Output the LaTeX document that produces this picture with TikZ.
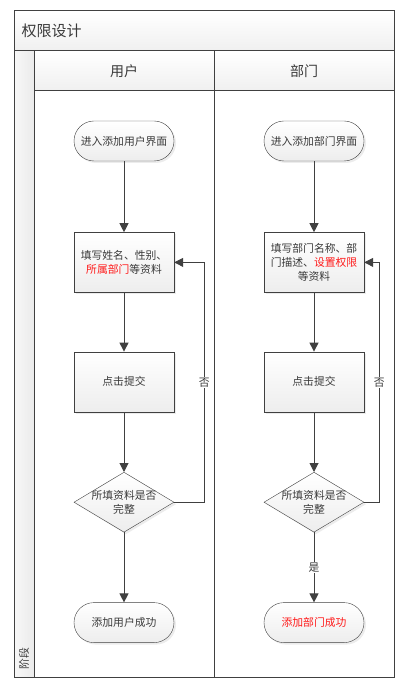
\documentclass[tikz,border=0pt]{standalone}
\usepackage{fontspec}
\setmainfont{Noto Sans CJK SC}
\usetikzlibrary{positioning,shapes.geometric,arrows.meta,shadows}
\definecolor{linegray}{HTML}{404040}
\definecolor{txtgray}{HTML}{3A3A3A}
\definecolor{hilite}{HTML}{FF1A1A}

\begin{document}
\begin{tikzpicture}[
  x=1pt,y=1pt,
  >={Triangle[width=9pt,length=9pt]},
  every node/.style={text=txtgray,font=\fontsize{10.8pt}{14pt}\selectfont},
  gradfill/.style={top color=white,bottom color=gray!14,
    drop shadow={opacity=0.15,shadow xshift=2pt,shadow yshift=-2pt}},
  term/.style={draw=linegray,gradfill,rounded corners=20pt,minimum width=100pt,
    minimum height=40pt,inner sep=0pt},
  proc/.style={draw=linegray,gradfill,minimum width=100pt,minimum height=60pt,
    inner sep=0pt,align=center},
  check/.style={draw=linegray,gradfill,diamond,aspect=1.667,minimum width=100pt,
    minimum height=60pt,inner xsep=-6pt,inner ysep=0pt,align=center},
  lane/.style={draw=linegray,line width=1pt},
  flow/.style={->,draw=linegray,line width=1pt},
  edgelabel/.style={fill=white,inner sep=1pt}
]
  \useasboundingbox (0,0) rectangle (416,-692);
  % frame, title bar and lane headers
  \fill[top color=white,bottom color=gray!12] (14,-11) rectangle (394,-51);
  \fill[left color=gray!6,right color=gray!16] (14,-51) rectangle (34,-677);
  \fill[top color=white,bottom color=gray!12] (34,-51) rectangle (394,-91);
  \draw[lane] (14,-11) rectangle (394,-677);
  \draw[lane] (14,-51) -- (394,-51);
  \draw[lane] (34,-91) -- (394,-91);
  \draw[lane] (34,-51) -- (34,-677);
  \draw[lane] (214,-51) -- (214,-677);
  \node[anchor=west,font=\fontsize{15pt}{18pt}\selectfont] (title) at (18,-31) {权限设计};
  \node[font=\fontsize{14pt}{17pt}\selectfont] (userhead) at (124,-71) {用户};
  \node[font=\fontsize{14pt}{17pt}\selectfont] (depthead) at (304,-71) {部门};
  \node[rotate=90,anchor=west] (stage) at (24,-673) {阶段};

  % lane: user
  \node[term] (start1) at (124,-141) {进入添加用户界面};
  \node[proc,below=71pt of start1] (form1) {填写姓名、性别、\\\textcolor{hilite}{所属部门}等资料};
  \node[proc,below=59pt of form1] (submit1) {点击提交};
  \node[check,below=60pt of submit1] (check1) {所填资料是否\\完整};
  \node[term,below=70pt of check1] (done1) {添加用户成功};
  \draw[flow] (start1) -- (form1);
  \draw[flow] (form1) -- (submit1);
  \draw[flow] (submit1) -- (check1);
  \draw[flow] (check1) -- (done1);
  \draw[flow] (check1.east) -- ++(30,0) |- node[pos=0.25,edgelabel] {否} (form1.east);

  % lane: department
  \node[term] (start2) at (314,-141) {进入添加部门界面};
  \node[proc,below=71pt of start2] (form2) {填写部门名称、部\\门描述、\textcolor{hilite}{设置权限}\\等资料};
  \node[proc,below=59pt of form2] (submit2) {点击提交};
  \node[check,below=60pt of submit2] (check2) {所填资料是否\\完整};
  \node[term,below=70pt of check2,text=hilite] (done2) {添加部门成功};
  \draw[flow] (start2) -- (form2);
  \draw[flow] (form2) -- (submit2);
  \draw[flow] (submit2) -- (check2);
  \draw[flow] (check2) -- node[edgelabel] {是} (done2);
  \draw[flow] (check2.east) -- ++(15,0) |- node[pos=0.25,edgelabel] {否} (form2.east);
\end{tikzpicture}
\end{document}
